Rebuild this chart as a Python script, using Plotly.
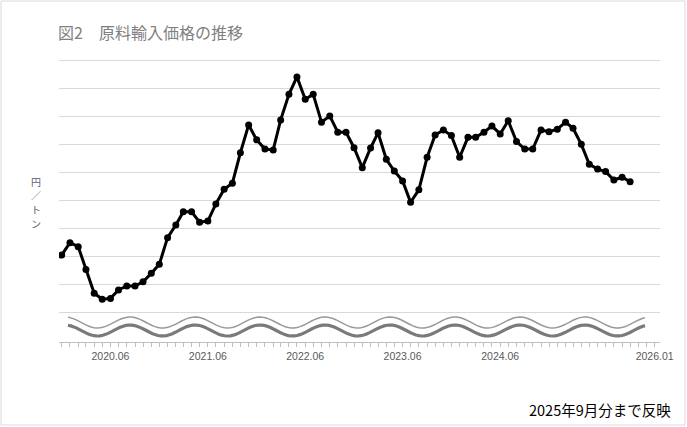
import numpy as np
import pandas as pd
import plotly.graph_objects as go

# 月次データ (2019年12月〜2025年10月の表示位置)
meses = pd.date_range("2019-12-01", periods=71, freq="MS")
# 原料輸入価格 (目盛線単位で読み取った相対値)
precio = [
    2.06, 2.50, 2.36, 1.55, 0.70, 0.49, 0.52, 0.82, 0.96, 0.96,
    1.11, 1.41, 1.73, 2.68, 3.13, 3.60, 3.60, 3.23, 3.27, 3.88,
    4.40, 4.62, 5.70, 6.69, 6.16, 5.83, 5.80, 6.87, 7.78, 8.40,
    7.60, 7.78, 6.79, 7.01, 6.43, 6.43, 5.88, 5.17, 5.87, 6.41,
    5.47, 5.05, 4.70, 3.94, 4.38, 5.54, 6.33, 6.51, 6.31, 5.54,
    6.25, 6.25, 6.43, 6.65, 6.37, 6.84, 6.10, 5.83, 5.83, 6.51,
    6.45, 6.54, 6.79, 6.57, 6.00, 5.29, 5.12, 5.03, 4.73, 4.83,
    4.67,
]
tick_fechas = ["2020-06-01", "2021-06-01", "2022-06-01", "2023-06-01", "2024-06-01", "2026-01-01"]
tick_textos = ["2020.06", "2021.06", "2022.06", "2023.06", "2024.06", "2026.01"]
eje_y_texto = ["円", "／", "ト", "ン"]

W, H = 687, 427
L, R, T, B = 59, 27, 59, 85
pw, ph = W - L - R, H - T - B

def px_x(x):
    return (x - L) / pw

def px_y(y):
    return (H - B - y) / ph

fig = go.Figure()
fig.add_trace(go.Scatter(
    x=meses, y=precio, mode="lines+markers",
    line=dict(color="#000000", width=3),
    marker=dict(color="#000000", size=7),
    showlegend=False,
))

# 波線 (省略記号)
xs = np.linspace(68, 645, 200)
ola = np.cos(2 * np.pi * (xs - 130) / 65)
def ruta(ys):
    pts = [f"{px_x(a):.5f},{px_y(b):.5f}" for a, b in zip(xs, ys)]
    return "M" + " L".join(pts)

shapes = [
    dict(type="path", xref="paper", yref="paper", path=ruta(330.5 - 5.5 * ola),
         line=dict(color="#7a7a7a", width=3.2)),
    dict(type="path", xref="paper", yref="paper", path=ruta(322.5 - 5.5 * ola),
         line=dict(color="#999999", width=1.5)),
    dict(type="rect", xref="paper", yref="paper",
         x0=px_x(1), x1=px_x(685), y0=px_y(425), y1=px_y(1),
         line=dict(color="#d9d9d9", width=1)),
]

annotations = [
    dict(text="図2　原料輸入価格の推移", xref="paper", yref="paper",
         x=px_x(56), y=px_y(32), xanchor="left", yanchor="middle", showarrow=False,
         font=dict(family="Noto Sans CJK JP", size=16, color="#808080")),
    dict(text="2025年9月分まで反映", xref="paper", yref="paper",
         x=px_x(673), y=px_y(409), xanchor="right", yanchor="middle", showarrow=False,
         font=dict(family="Noto Sans CJK JP", size=14.5, color="#000000")),
]
# 縦書きの単位ラベル
for i, c in enumerate(eje_y_texto):
    annotations.append(dict(
        text=c, xref="paper", yref="paper",
        x=px_x(36), y=px_y(181 + 14 * i), xanchor="center", yanchor="middle",
        showarrow=False, borderpad=0,
        font=dict(family="Noto Sans CJK JP", size=10, color="#5a6378")))

fig.update_layout(
    width=W, height=H,
    margin=dict(l=L, r=R, t=T, b=B),
    paper_bgcolor="white", plot_bgcolor="white",
    shapes=shapes, annotations=annotations,
    xaxis=dict(
        type="date", range=["2019-11-21", "2026-01-21"],
        tickvals=tick_fechas, ticktext=tick_textos,
        ticks="outside", ticklen=4, tickcolor="#bfbfbf",
        showline=True, linecolor="#bfbfbf", linewidth=1,
        showgrid=False, zeroline=False,
        tickfont=dict(family="Liberation Sans", size=10.5, color="#595959"),
        minor=dict(ticks="outside", ticklen=4, tickcolor="#bfbfbf", dtick="M1",
                   tick0="2019-12-01", showgrid=False),
    ),
    yaxis=dict(
        range=[-1.032, 9.036], tickvals=list(range(10)),
        showticklabels=False, showgrid=True, gridcolor="#d9d9d9", gridwidth=1,
        zeroline=False, showline=False,
    ),
)

fig.write_html("out.html", config={"displayModeBar": False},
               post_script="document.body.style.margin='0';")
